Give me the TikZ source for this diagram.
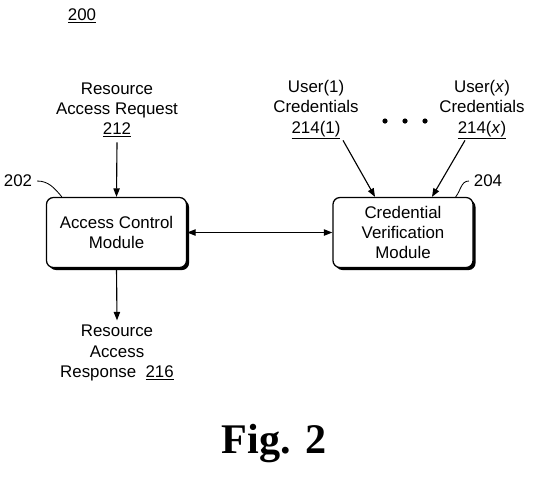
\documentclass[tikz,border=0pt]{standalone}
\usepackage{fontspec}
\setmainfont{Liberation Sans}
\newfontfamily\figfont{Liberation Serif}
\usetikzlibrary{arrows.meta, positioning, calc, shadows}

\begin{document}
\begin{tikzpicture}[
    x=0.025cm, y=-0.025cm,
    every node/.style={font=\fontsize{12}{14.3}\selectfont, align=center},
    module/.style={rectangle, rounded corners=5pt, draw, fill=white, line width=0.9pt,
                   minimum width=3.5cm, minimum height=1.75cm,
                   drop shadow={shadow xshift=1.8pt, shadow yshift=-1.8pt, fill=black, opacity=1}},
    arr/.style={line width=0.8pt, -{Triangle[length=6pt, width=4.5pt]}},
    dblarr/.style={line width=0.8pt, {Triangle[length=6pt, width=4.5pt]}-{Triangle[length=6pt, width=4.5pt]}},
    refline/.style={line width=0.6pt},
]
\useasboundingbox (0,0) rectangle (538,476);

% ---------------------------------------------------------------- figure number
\node (fignum) at (82,16) {\underline{200}};

% ---------------------------------------------------------------- modules
\node[module] (acm) at (116.5,232.5) {Access Control\\Module};
\node[module] (cvm) at (403,232.5) {Credential\\Verification\\Module};

\node (l202) at (18,181) {202};
\node (l204) at (488,181) {204};
\draw[refline] (l202.east) to[out=0, in=130] ($(acm.north west)+(16,0)$);
\draw[refline] (l204.west) to[out=180, in=50] ($(cvm.north east)+(-18,0)$);

% ---------------------------------------------------------------- request and response
\node (req) at (117,110) {Resource\\Access Request\\\underline{212}};
\node (resp) at (117,353) {Resource\\Access\\Response\ \ \underline{216}};
\draw[arr] (req.south) -- (acm.north);
\draw[arr] (acm.south) -- (resp.north);
\draw[dblarr] (acm.east) -- (cvm.west);

% ---------------------------------------------------------------- credentials
\node (cred1) at (316,110) {User(1)\\Credentials\\\underline{214(1)}};
\node (credx) at (482,110) {User(\textit{x})\\Credentials\\\underline{214(\textit{x})}};
\foreach \d in {385, 405, 425}{
    \fill (\d,121) circle (2.6);
}
\draw[arr] ($(cred1.south)+(27,-4)$) -- ($(cvm.north)+(-28,0)$);
\draw[arr] ($(credx.south)+(-17,-4)$) -- ($(cvm.north)+(29,0)$);

% ---------------------------------------------------------------- caption
\node (caption) at (274,444) {\figfont\bfseries\fontsize{30}{36}\selectfont Fig. 2};
\end{tikzpicture}
\end{document}
